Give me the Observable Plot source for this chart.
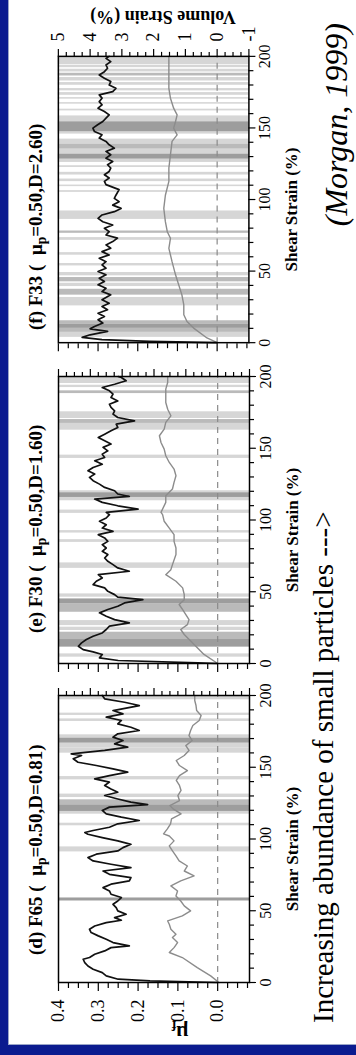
<!DOCTYPE html>
<html><head><meta charset="utf-8">
<script src="https://cdn.jsdelivr.net/npm/d3@7"></script>
<script src="https://cdn.jsdelivr.net/npm/@observablehq/plot@0.6"></script>
<style>
html,body{margin:0;padding:0;background:#fff;width:356px;height:1055px;overflow:hidden;}
#land{position:absolute;left:0;top:0;width:1055px;height:356px;transform-origin:0 0;transform:translate(0px,1055px) rotate(-90deg);background:#fff;font-family:"Liberation Serif","Times New Roman",serif;color:#000;}
#border{position:absolute;left:0;top:0;width:1055px;height:356px;box-sizing:border-box;border-top:8px solid #0b1b8f;border-left:10px solid #0b1b8f;}
#inner{position:absolute;left:10px;top:8px;width:1045px;height:348px;box-sizing:border-box;border-top:1px solid #9aa6c8;border-left:1px solid #9aa6c8;}
.pl{position:absolute;top:0;}
.pl svg{overflow:visible;}
.ttl{position:absolute;top:26px;font-size:19px;line-height:19px;font-weight:bold;white-space:nowrap;font-family:"Liberation Serif",serif;}
.ttl sub{font-size:0.72em;vertical-align:-0.3em;line-height:0;}
.rot{position:absolute;transform:translate(-50%,-50%) rotate(-90deg);white-space:nowrap;font-weight:bold;font-family:"Liberation Serif",serif;}
#cap{position:absolute;left:32px;top:309px;font-size:29px;line-height:29px;white-space:nowrap;font-family:"Liberation Serif",serif;}
#cite{position:absolute;right:23px;top:320px;font-size:32px;line-height:32px;font-style:italic;white-space:nowrap;font-family:"Liberation Serif",serif;}
</style></head>
<body>
<div id="land">
  <div id="border"></div><div id="inner"></div>
</div>
<script>
// ---------------- data ----------------
const panelTitles = ["F65", "F30", "F33"];
const panelLetters = ["(d)", "(e)", "(f)"];
const panelD = ["0.81", "1.60", "2.60"];
const shearLabels = [0, 50, 100, 150, 200];
const shearTicks = [0,10,20,30,40,50,60,70,80,90,100,110,120,130,140,150,160,170,180,190,200];
const muLabels = [0.4, 0.3, 0.2, 0.1, 0.0];
const muTicks = [-0.075,-0.05,-0.025,0,0.025,0.05,0.075,0.1,0.125,0.15,0.175,0.2,0.225,0.25,0.275,0.3,0.325,0.35,0.375,0.4];
const volLabels = [5, 4, 3, 2, 1, 0, -1];
const volTicks = [-1,-0.75,-0.5,-0.25,0,0.25,0.5,0.75,1,1.25,1.5,1.75,2,2.25,2.5,2.75,3,3.25,3.5,3.75,4,4.25,4.5,4.75,5];

// friction coefficient (shear strain %, mu_f)
const muF65 = [[0,0],[1.1,0.17],[2.3,0.25],[4.6,0.28],[6.9,0.29],[9.2,0.313],[11.5,0.326],[13.9,0.334],[16.2,0.338],[17.4,0.322],[19.7,0.309],[22,0.284],[24.3,0.268],[25.5,0.222],[27.8,0.263],[30.1,0.28],[32.5,0.30],[34.8,0.318],[37.1,0.322],[39.4,0.309],[41.7,0.28],[43.4,0.242],[45.2,0.259],[47.6,0.23],[49.9,0.251],[52.2,0.255],[54.5,0.263],[56.8,0.251],[59.2,0.242],[61.5,0.268],[63.8,0.272],[66.1,0.288],[68.5,0.268],[70.8,0.222],[73.1,0.218],[75.4,0.272],[77.7,0.288],[80.1,0.218],[82.4,0.268],[84.7,0.313],[87,0.326],[89.4,0.305],[91.7,0.251],[94,0.238],[96.3,0.218],[98.7,0.251],[101,0.29],[103.3,0.326],[104.5,0.334],[105.9,0.313],[108.2,0.272],[110.6,0.251],[112.9,0.197],[115.2,0.242],[117.5,0.28],[119.9,0.29],[122.2,0.272],[124,0.176],[125.7,0.218],[127.9,0.251],[130.3,0.284],[132.6,0.251],[134.9,0.268],[137.3,0.284],[139.6,0.272],[141.9,0.309],[144.2,0.272],[146.6,0.226],[148.9,0.263],[151.2,0.305],[153.5,0.351],[155.9,0.363],[158.2,0.342],[159.3,0.368],[161.7,0.284],[164,0.226],[166.3,0.259],[168.6,0.238],[171,0.263],[173.3,0.251],[175.6,0.197],[177.9,0.218],[180.2,0.251],[182.6,0.242],[184.9,0.28],[187.2,0.238],[189.5,0.263],[193,0.197],[195.3,0.234],[197.7,0.284],[200,0.29]];
const muF30 = [[0,0],[0.5,0.05],[2.1,0.25],[3.9,0.297],[6.3,0.29],[8.1,0.313],[9.7,0.338],[12,0.35],[14.4,0.342],[16.7,0.33],[19,0.313],[21.3,0.29],[23.7,0.28],[26,0.272],[28.3,0.222],[30.6,0.259],[32.9,0.28],[35.3,0.297],[37.6,0.276],[39.9,0.251],[42.2,0.234],[44.5,0.188],[46.2,0.251],[48,0.259],[50.3,0.276],[52.7,0.284],[55,0.313],[57.3,0.305],[59.6,0.29],[61.9,0.30],[64.3,0.222],[66.6,0.251],[68.9,0.263],[71.2,0.276],[73.5,0.284],[75.9,0.276],[78.2,0.29],[80.5,0.28],[82.8,0.29],[85.1,0.276],[87.5,0.284],[89.8,0.30],[92.1,0.263],[94.4,0.29],[96.7,0.28],[99.1,0.297],[101.4,0.28],[103.7,0.272],[105.3,0.28],[107.6,0.20],[109.9,0.251],[112.3,0.29],[114.6,0.309],[116.4,0.222],[118.1,0.251],[120.4,0.259],[122.7,0.284],[125,0.297],[127.4,0.313],[129.7,0.322],[132,0.309],[134.3,0.326],[136.6,0.313],[138.9,0.29],[141.3,0.309],[143.6,0.284],[145.9,0.29],[148.2,0.276],[150.6,0.288],[152.9,0.268],[155.2,0.284],[157.5,0.30],[159.8,0.284],[162.2,0.268],[164.5,0.251],[166.8,0.255],[169.1,0.209],[171.4,0.251],[173.8,0.263],[176.1,0.259],[178.4,0.268],[180.7,0.272],[183,0.251],[185.4,0.268],[187.7,0.263],[190,0.272],[192.3,0.29],[194.6,0.259],[197,0.23],[199.3,0.242],[200,0.25]];
const muF33 = [[0,0],[0.9,0.17],[2.1,0.29],[3.7,0.34],[5.5,0.32],[7.9,0.276],[9.7,0.32],[11.3,0.309],[13.7,0.288],[16,0.30],[18.3,0.284],[20.6,0.30],[23,0.276],[25.3,0.29],[27.6,0.272],[30,0.29],[33.4,0.268],[35.7,0.29],[38,0.28],[40.4,0.30],[42.7,0.284],[45,0.297],[47.4,0.28],[49.7,0.30],[52,0.28],[54.3,0.29],[56.6,0.28],[59,0.297],[61.3,0.272],[63.6,0.29],[66,0.268],[68.3,0.28],[70.6,0.263],[73,0.251],[75.2,0.28],[77.6,0.272],[79.9,0.284],[82.2,0.263],[84.5,0.288],[86.8,0.30],[89.2,0.29],[91.5,0.259],[93.8,0.242],[96.1,0.263],[98.5,0.247],[100.8,0.259],[103,0.255],[106.9,0.247],[110.4,0.28],[112.7,0.284],[115,0.272],[117.3,0.284],[119.6,0.272],[122,0.268],[124.3,0.276],[126.6,0.263],[128.9,0.28],[131.3,0.268],[133.6,0.28],[135.9,0.259],[138.2,0.272],[140.6,0.28],[142.9,0.297],[145.2,0.29],[147.5,0.309],[149.9,0.313],[152.2,0.301],[154.5,0.288],[156.8,0.28],[159.1,0.272],[161.5,0.284],[163.8,0.30],[166.1,0.29],[168.4,0.297],[170.8,0.29],[173.1,0.297],[175.4,0.263],[177.7,0.255],[180,0.272],[182.4,0.268],[184.7,0.284],[187,0.297],[189.3,0.284],[191.7,0.276],[194,0.28],[196.3,0.268],[198.6,0.28],[200,0.272]];

// volume strain (shear strain %, volume strain %)
const volF65 = [[0,-0.04],[4.6,0.22],[10.4,0.64],[17.4,1.11],[20.9,1.52],[24.3,1.37],[27.8,1.26],[31.3,1.42],[33.6,1.31],[37.1,1.47],[40.6,1.52],[42.9,1.57],[46.4,1.11],[49.9,0.85],[53.4,1.05],[56.8,1.16],[60.3,1.31],[63.8,1.26],[67.3,1.47],[70.8,1.16],[74.3,0.74],[77.7,1.05],[81.2,0.95],[84.7,1.21],[88.2,1.31],[91.7,1.42],[95.2,1.52],[98.7,1.37],[102.1,1.52],[103.6,1.7],[107.1,1.58],[110.6,1.48],[114.1,1.45],[117.5,1.15],[121,1.4],[123.3,1.5],[126.8,1.2],[130.3,1.25],[133.8,1.15],[137.3,1.2],[140.8,1.3],[144.2,1.2],[147.7,0.95],[151.2,1.2],[154.7,1.3],[158.2,1.05],[161.7,0.9],[165.1,1.0],[168.6,0.8],[172.1,0.9],[175.6,0.85],[179.1,0.78],[182.6,0.58],[186.1,0.52],[189.5,0.66],[193,0.68],[196.5,0.72],[200,0.72]];
const volF30 = [[0,0],[6.3,0.43],[13.2,0.74],[20.2,1.05],[23.7,1.16],[27.1,0.95],[30.6,0.90],[34.1,1.0],[37.6,1.1],[41.1,1.21],[44.5,1.05],[48,1.05],[52.7,1.1],[57.3,1.31],[61.9,1.63],[65.4,1.47],[68.9,1.42],[75.9,1.31],[80.5,1.31],[85.1,1.37],[89.8,1.37],[94.4,1.52],[99.1,1.68],[103.7,1.73],[105.3,1.78],[112.3,1.63],[116.9,1.63],[121.6,1.42],[126.2,1.37],[130.8,1.31],[135.5,1.37],[140.1,1.52],[144.8,1.63],[149.4,1.68],[154,1.78],[158.7,1.83],[163.3,1.68],[168,1.63],[172.6,1.47],[177.2,1.57],[181.9,1.63],[186.5,1.63],[191.2,1.63],[195.8,1.57],[200,1.57]];
const volF33 = [[0,0],[3.3,0.32],[10.2,0.74],[14.8,0.95],[19.5,1.05],[26.4,1.05],[33.4,1.11],[40.4,1.21],[47.4,1.31],[56.6,1.42],[65.9,1.52],[72.9,1.47],[77.5,1.57],[84.5,1.63],[93.8,1.68],[103,1.63],[112.7,1.52],[122,1.52],[131.3,1.47],[140.6,1.42],[145.2,1.26],[149.9,1.37],[154.5,1.31],[159.1,1.26],[163.8,1.37],[170.8,1.47],[177.7,1.52],[184.7,1.52],[191.7,1.52],[198.6,1.52],[200,1.52]];

// shaded slip intervals (start, end, shade 1 light / 2 medium / 3 dark)
const bandsF65 = [[197.7,200,1],[186.8,188.4,1],[182.6,184.4,1],[171,173.3,1],[164,167.5,1],[160.5,164,1],[141.9,144.2,1],[129.6,132,1],[118,119.9,1],[109.9,111.7,1],[91.7,95.2,1],[124.5,128,2],[167.5,171,3],[119.9,124.5,3],[57.5,59.6,3]];
const bandsF30 = [[195.8,200,1],[193,194.6,1],[171.4,176.1,1],[163.3,168,1],[143.6,145.9,1],[119.7,121.1,1],[114.1,116.4,1],[105.3,107.6,1],[91.6,93.3,1],[85.1,87,1],[67,70.8,1],[46.9,49.2,1],[27.1,30.6,1],[23.7,26,1],[5.1,7.4,1],[188.8,190.7,2],[168,170.7,2],[36.4,42.2,2],[17.4,22.5,2],[116.4,119.7,3],[42.2,45.7,3],[12.1,17.4,3]];
const bandsF33 = [[195,200,1],[192.8,194.5,1],[189.8,191.7,1],[183.5,185.9,1],[180.5,182.4,1],[176.6,178.2,1],[173.5,175.4,1],[170.8,171.9,1],[167.3,168.4,1],[162.6,163.8,1],[155,159.1,1],[146.4,148,1],[139.4,142.9,1],[132.4,135.9,1],[126.6,128.9,1],[123.1,124.3,1],[117.8,119.7,1],[113.2,115,1],[109.7,110.8,1],[105.7,106.9,1],[86.8,92.7,1],[72.2,74.1,1],[61.8,63.6,1],[54.3,56,1],[47.4,49.7,1],[39.9,42.2,1],[26.4,32.3,1],[4.4,7.9,1],[187,188.9,2],[135.9,139.4,2],[77.1,78.7,2],[43.2,46.2,2],[33.9,38,2],[13.7,16,2],[7.9,10.7,2],[148,155,3],[128.9,132.4,3],[10.7,13.7,3]];

// ---------------- drawing ----------------
const MU_MIN = -0.08, MU_MAX = 0.4, VOL_TO_MU = 0.08;
const FW = 287, FH = 191, ML = 72, MR = 57, MT = 58, MB = 107;
const ppx = FW / 200, ppy = FH / (MU_MAX - MU_MIN);
const FONT = "'Liberation Serif','Times New Roman',serif";
const shade = ["#d6d6d6", "#bababa", "#9d9d9d"];
const frameLefts = [72, 391, 712];
const panels = [
  {mu: muF65, vol: volF65, bands: bandsF65, muAxis: true, volAxis: false},
  {mu: muF30, vol: volF30, bands: bandsF30, muAxis: false, volAxis: false},
  {mu: muF33, vol: volF33, bands: bandsF33, muAxis: false, volAxis: true}
];
const isMajorMu = v => Math.abs(v * 10 - Math.round(v * 10)) < 1e-6;
const land = document.getElementById("land");

panels.forEach((p, i) => {
  const marks = [
    Plot.rect(p.bands, {x1: b => b[0], x2: b => b[1], fill: b => shade[b[2] - 1]}),
    Plot.ruleY([0], {stroke: "#8a8a8a", strokeWidth: 1.2, strokeDasharray: "6,5"}),
    Plot.line(p.vol, {x: d => d[0], y: d => d[1] * VOL_TO_MU, stroke: "#8c8c8c", strokeWidth: 1.4}),
    Plot.line(p.mu, {x: d => d[0], y: d => d[1], stroke: "#111", strokeWidth: 1.7}),
    Plot.frame({stroke: "#000", strokeWidth: 1.5}),
    Plot.ruleX(shearTicks, {x: d => d, y1: MU_MIN, y2: d => MU_MIN - (d % 50 === 0 ? 7 : 5) / ppy, stroke: "#000", strokeWidth: 1.2}),
    Plot.ruleY(muTicks, {y: d => d, x1: 0, x2: d => -(isMajorMu(d) ? 8 : 5) / ppx, stroke: "#000", strokeWidth: 1.2}),
    Plot.ruleY(volTicks, {y: d => d * VOL_TO_MU, x1: 200, x2: d => 200 + (Number.isInteger(d) ? 8 : 5) / ppx, stroke: "#000", strokeWidth: 1.2}),
    Plot.text(shearLabels, {x: d => d, frameAnchor: "bottom", dy: 21, fontSize: 16, fontFamily: FONT, text: d => String(d)}),
    Plot.text(["Shear Strain (%)"], {frameAnchor: "bottom", dy: 48, dx: -10, fontSize: 17, fontWeight: "bold", fontFamily: FONT})
  ];
  if (p.muAxis) marks.push(Plot.text(muLabels, {y: d => d, frameAnchor: "left", dx: -17, textAnchor: "end", fontSize: 18, fontFamily: FONT, text: d => d.toFixed(1)}));
  if (p.volAxis) marks.push(Plot.text(volLabels, {y: d => d * VOL_TO_MU, frameAnchor: "right", dx: 15, textAnchor: "start", fontSize: 18, fontFamily: FONT, text: d => String(d)}));
  const svg = Plot.plot({
    width: ML + FW + MR, height: MT + FH + MB,
    marginLeft: ML, marginRight: MR, marginTop: MT, marginBottom: MB,
    x: {domain: [0, 200], axis: null},
    y: {domain: [MU_MIN, MU_MAX], axis: null},
    color: {type: "identity"},
    style: {background: "transparent", overflow: "visible", fontFamily: FONT, color: "#000"},
    marks
  });
  const div = document.createElement("div");
  div.className = "pl";
  div.style.left = (frameLefts[i] - ML) + "px";
  div.appendChild(svg);
  land.appendChild(div);
});

// titles
const titleLefts = [100, 422, 725];
panelTitles.forEach((t, i) => {
  const d = document.createElement("div");
  d.className = "ttl";
  d.style.left = titleLefts[i] + "px";
  d.innerHTML = `${panelLetters[i]} ${t} (&nbsp; \u03bc<sub>p</sub>=0.50,D=${panelD[i]})`;
  land.appendChild(d);
});
function addRot(html, cx, cy, size) {
  const d = document.createElement("div");
  d.className = "rot";
  d.style.left = cx + "px"; d.style.top = cy + "px"; d.style.fontSize = size + "px";
  d.innerHTML = html;
  land.appendChild(d);
}
addRot("\u03bc<sub style='font-size:0.65em'>f</sub>", 24, 180, 21);
addRot("Volume Strain (%)", 1039, 163, 18);
const cap = document.createElement("div"); cap.id = "cap";
cap.textContent = "Increasing abundance of small particles --->";
land.appendChild(cap);
const cite = document.createElement("div"); cite.id = "cite";
cite.textContent = "(Morgan, 1999)";
land.appendChild(cite);
</script>
</body></html>
